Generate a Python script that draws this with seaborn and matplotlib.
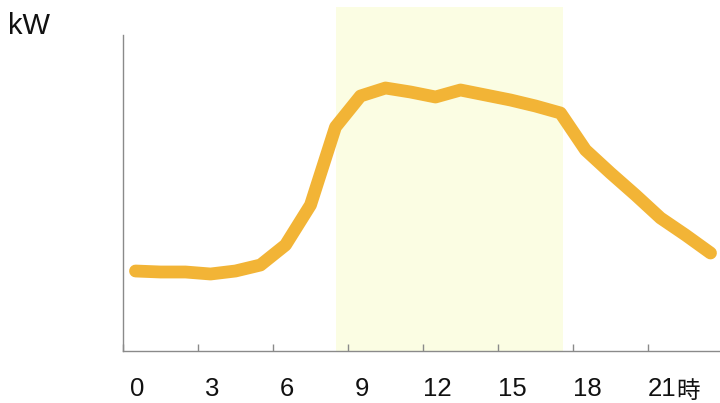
import numpy as np
import matplotlib.pyplot as plt
import matplotlib.transforms as mtransforms
import seaborn as sns

# Hourly power demand (kW), sampled at the middle of each hour
hours = np.arange(24) + 0.5
kw = [8.0, 7.9, 7.9, 7.7, 8.0, 8.6, 10.6, 14.6, 22.4, 25.5, 26.3, 25.9,
      25.4, 26.1, 25.6, 25.1, 24.5, 23.8, 20.1, 17.8, 15.6, 13.3, 11.6, 9.8]

tick_hours = [0, 3, 6, 9, 12, 15, 18, 21]
tick_labels = ["0", "3", "6", "9", "12", "15", "18", "21"]

peak_start, peak_end = 8.5, 17.6

LINE_COLOR = "#f2b436"
SPAN_COLOR = "#fbfde3"
AXIS_COLOR = "#8a8a8a"

sns.set_style("white")
plt.rcParams["font.family"] = ["Liberation Sans", "Noto Sans CJK JP"]

fig = plt.figure(figsize=(7.2, 4.03), dpi=100)
ax = fig.add_axes([123 / 720, 52 / 403, 597 / 720, 344 / 403])

ax.axvspan(peak_start, peak_end, color=SPAN_COLOR, lw=0, zorder=0)
sns.lineplot(x=hours, y=kw, ax=ax, color=LINE_COLOR, linewidth=9.2,
             solid_capstyle="round", solid_joinstyle="round", zorder=3)

ax.set_xlim(0, 23.88)
ax.set_ylim(0, 34.4)
ax.set_yticks([])
ax.set_xticks(tick_hours)
ax.set_xticklabels(tick_labels, fontsize=18.5, color="#111111")
ax.tick_params(axis="x", bottom=True, direction="in", length=5, width=1,
               color=AXIS_COLOR, pad=19)
# labels sit slightly right of their ticks in the original
offset = mtransforms.ScaledTranslation(0.14, 0, fig.dpi_scale_trans)
for lab in ax.get_xticklabels():
    lab.set_transform(lab.get_transform() + offset)

for side in ["top", "right"]:
    ax.spines[side].set_visible(False)
for side in ["left", "bottom"]:
    ax.spines[side].set_color(AXIS_COLOR)
    ax.spines[side].set_linewidth(1)
ax.spines["left"].set_bounds(0, 31.6)
ax.set_xlabel("")
ax.set_ylabel("")

fig.text(8 / 720, 1 - 34 / 403, "kW", fontsize=21, color="#111111",
         ha="left", va="baseline")
fig.text(688 / 720, 1 - 391 / 403, "時", fontsize=17, color="#111111",
         ha="center", va="center", family=["Noto Sans CJK JP", "DejaVu Sans"])

fig.savefig("out.png", dpi=100)
